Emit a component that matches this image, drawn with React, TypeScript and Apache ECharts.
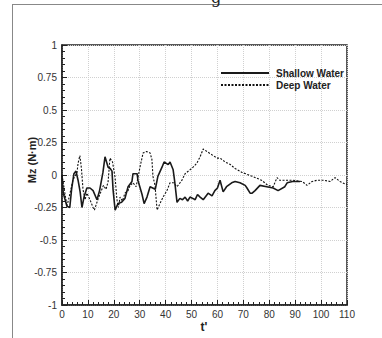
import React, { useEffect, useRef } from "react";
import * as echarts from "echarts";

const shallowT = [0, 0.5, 1.9, 3, 3.7, 4.6, 5.4, 6.2, 7, 7.7, 8.5, 9.6, 10.8, 12, 13.5, 14.5, 15.8, 16.6, 17.8, 18.6, 19.3, 19.7, 20.5, 21.6, 23, 24.3, 25.5, 27, 27.4, 29, 29.3, 30.9, 31.7, 32.8, 34, 35, 36, 37, 38.6, 39.4, 41, 41.7, 42.9, 43.5, 44.4, 45.5, 46.5, 47.5, 48.5, 49.4, 50.5, 51.4, 52.3, 53.3, 54.5, 56.4, 57.9, 59, 60, 61, 62.2, 63.5, 65.5, 66.8, 68.7, 70.7, 71.4, 72.6, 73.4, 74.5, 76.4, 79, 81.5, 83.4, 86, 86.9, 89, 91.9];
const shallowM = [-0.01, -0.14, -0.24, -0.25, -0.11, 0.01, 0.03, -0.04, -0.13, -0.25, -0.17, -0.1, -0.1, -0.12, -0.19, -0.12, 0.02, 0.14, 0.06, 0.05, 0.03, -0.11, -0.27, -0.22, -0.21, -0.18, -0.09, -0.05, 0.01, 0.01, -0.04, -0.15, -0.22, -0.17, -0.09, -0.1, -0.11, -0.01, 0.06, 0.1, 0.08, 0.1, 0.04, -0.05, -0.21, -0.18, -0.19, -0.17, -0.2, -0.17, -0.18, -0.19, -0.15, -0.17, -0.19, -0.14, -0.16, -0.12, -0.1, -0.04, -0.13, -0.09, -0.06, -0.05, -0.06, -0.08, -0.1, -0.14, -0.14, -0.12, -0.08, -0.09, -0.1, -0.12, -0.09, -0.06, -0.05, -0.05];

const deepT = [0, 0.8, 1.9, 3, 4.2, 5.8, 6.2, 6.9, 7.5, 8.1, 8.9, 9.6, 10.8, 12, 12.5, 14, 15.4, 16, 17, 17.8, 18.5, 19.5, 20.5, 21.2, 21.8, 22.4, 23.3, 24.3, 25.5, 26.3, 27.4, 28.6, 30.1, 31.3, 32.6, 34, 34.7, 35.1, 35.9, 36.7, 37.8, 39, 40.5, 41.7, 43, 44.4, 46.3, 47.5, 49.4, 50.6, 52, 53.3, 54.5, 56, 58.3, 59.8, 61, 63, 65, 66.8, 69.5, 73.4, 77, 79.5, 81.5, 83, 84, 86, 89, 92.7, 94.6, 96.5, 98.5, 101, 103.5, 105.4, 107.3, 109.3, 110];
const deepM = [0, -0.1, -0.24, -0.15, -0.04, 0.02, 0.09, 0.15, 0.05, -0.11, -0.19, -0.14, -0.19, -0.25, -0.27, -0.18, -0.11, -0.08, -0.11, -0.05, 0.13, 0.1, -0.02, -0.19, -0.25, -0.17, -0.2, -0.14, -0.12, -0.08, -0.06, -0.09, 0.06, 0.17, 0.18, 0.17, 0.12, -0.01, -0.08, -0.27, -0.22, -0.17, -0.12, -0.06, -0.06, -0.09, -0.04, 0.01, 0.04, 0.06, 0.09, 0.14, 0.2, 0.18, 0.15, 0.13, 0.13, 0.1, 0.08, 0.05, 0.02, -0.01, -0.04, -0.08, -0.09, -0.02, -0.04, -0.04, -0.04, -0.05, -0.08, -0.05, -0.04, -0.04, -0.05, -0.02, -0.05, -0.07, -0.07];

const seriesNames = ["Shallow Water", "Deep Water"];
const xTitle = "t'";
const yTitle = "Mz (N·m)";

const zip = (a: number[], b: number[]) => a.map((v, i) => [v, b[i]]);

export default function App() {
  const ref = useRef<HTMLDivElement>(null);
  useEffect(() => {
    if (!ref.current) return;
    const chart = echarts.init(ref.current, undefined, { renderer: "svg" });
    const font = "'Liberation Sans', Arial, Helvetica, sans-serif";
    chart.setOption({
      animation: false,
      backgroundColor: "#fff",
      textStyle: { fontFamily: font },
      grid: {
        left: 62, top: 45, width: 285, height: 260,
        show: true, borderColor: "#222", borderWidth: 1.5, backgroundColor: "transparent",
      },
      legend: {
        orient: "vertical",
        left: 215,
        top: 63,
        itemWidth: 48,
        itemHeight: 10,
        itemGap: 2,
        data: seriesNames,
        itemStyle: { color: "transparent", borderColor: "transparent", borderWidth: 0, opacity: 0 },
        textStyle: { fontFamily: font, fontWeight: "bold", fontSize: 10, color: "#222", padding: [0, 0, 0, 2] },
      },
      xAxis: {
        type: "value", min: 0, max: 110, interval: 10,
        axisLine: { show: true, onZero: false, lineStyle: { color: "#222", width: 1.5 } },
        axisTick: { show: true, inside: true, length: 5, lineStyle: { color: "#222" } },
        minorTick: { show: true, splitNumber: 5, length: 3, lineStyle: { color: "#222" } },
        axisLabel: { color: "#333", fontSize: 10, margin: 4, fontFamily: font },
        splitLine: { show: true, lineStyle: { color: "#d0d0d0", type: "dotted", width: 1 } },
      },
      yAxis: {
        type: "value", min: -1, max: 1, interval: 0.25,
        axisLine: { show: true, onZero: false, lineStyle: { color: "#222", width: 1.5 } },
        axisTick: { show: true, inside: true, length: 5, lineStyle: { color: "#222" } },
        minorTick: { show: true, splitNumber: 5, length: 3, lineStyle: { color: "#222" } },
        axisLabel: { color: "#333", fontSize: 10, margin: 5, fontFamily: font },
        splitLine: { show: true, lineStyle: { color: "#d0d0d0", type: "dotted", width: 1 } },
      },
      graphic: [
        { type: "line", shape: { x1: 12, y1: 4.5, x2: 382, y2: 4.5 }, style: { stroke: "#888", lineWidth: 1 } },
        { type: "line", shape: { x1: 12.5, y1: 4, x2: 12.5, y2: 338 }, style: { stroke: "#888", lineWidth: 1 } },
        { type: "text", x: 216, y: 5, style: { text: "g", font: "16px 'DejaVu Serif', serif", fill: "#222", textAlign: "center", textVerticalAlign: "bottom" } },
        { type: "text", x: 32, y: 160, rotation: Math.PI / 2, style: { text: yTitle, font: `bold 11px ${font}`, fill: "#222", textAlign: "center", textVerticalAlign: "middle" } },
        { type: "text", x: 204, y: 327, style: { text: xTitle, font: `bold 12px ${font}`, fill: "#222", textAlign: "center", textVerticalAlign: "middle" } },
      ],
      series: [
        {
          name: seriesNames[0], type: "line", data: zip(shallowT, shallowM),
          showSymbol: false, symbol: "none",
          lineStyle: { color: "#1a1a1a", width: 1.6, type: "solid" },
          itemStyle: { color: "#1a1a1a" },
        },
        {
          name: seriesNames[1], type: "line", data: zip(deepT, deepM),
          showSymbol: false, symbol: "none",
          lineStyle: { color: "#111", width: 1.1, type: [2, 1.5] },
          itemStyle: { color: "#111" },
        },
      ],
    });
    return () => chart.dispose();
  }, []);
  return <div ref={ref} style={{ position: "absolute", left: 0, top: 0, width: 382, height: 338 }} />;
}
